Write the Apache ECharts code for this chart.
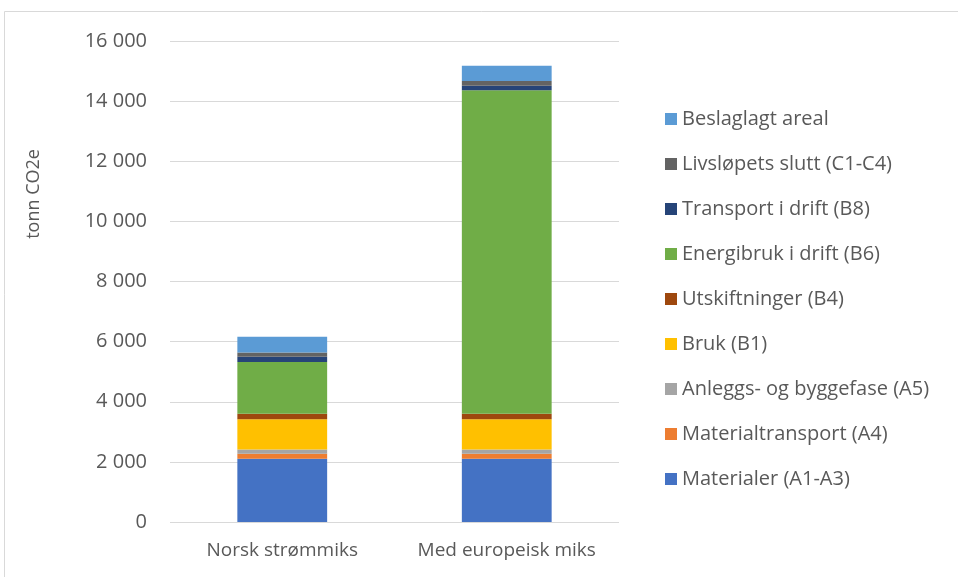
<!DOCTYPE html>
<html>
<head>
<meta charset="utf-8">
<script src="https://cdn.jsdelivr.net/npm/echarts@6/dist/echarts.min.js"></script>
<style>
  html, body { margin: 0; padding: 0; background: #fff; }
  #chart { width: 958px; height: 577px; }
</style>
</head>
<body>
<div id="chart"></div>
<script>
const categories = ["Norsk strømmiks", "Med europeisk miks"];
const yTicks = [0, 2000, 4000, 6000, 8000, 10000, 12000, 14000, 16000];

const materialer = [2105, 2105];
const materialtransport = [165, 165];
const anleggsfase = [145, 145];
const bruk = [1000, 1000];
const utskiftninger = [185, 185];
const energibruk = [1720, 10760];
const transportDrift = [175, 155];
const livslopSlutt = [145, 155];
const beslaglagtAreal = [520, 510];

const seriesDefs = [
  ["Materialer (A1-A3)", materialer, "#4472C4"],
  ["Materialtransport (A4)", materialtransport, "#ED7D31"],
  ["Anleggs- og byggefase (A5)", anleggsfase, "#A5A5A5"],
  ["Bruk (B1)", bruk, "#FFC000"],
  ["Utskiftninger (B4)", utskiftninger, "#9E480E"],
  ["Energibruk i drift (B6)", energibruk, "#70AD47"],
  ["Transport i drift (B8)", transportDrift, "#264478"],
  ["Livsløpets slutt (C1-C4)", livslopSlutt, "#636363"],
  ["Beslaglagt areal", beslaglagtAreal, "#5B9BD5"],
];

const font = "'Open Sans', sans-serif";
const textColor = "#595959";

const chart = echarts.init(document.getElementById("chart"));

const fmt = (v) => String(v).replace(/\B(?=(\d{3})+(?!\d))/g, " ");

chart.setOption({
  animation: false,
  backgroundColor: "#fff",
  textStyle: { fontFamily: font },
  graphic: [
    {
      type: "rect",
      shape: { x: 4.5, y: 11.5, width: 1000, height: 600 },
      style: { fill: "none", stroke: "#d9d9d9", lineWidth: 1 },
      silent: true,
    },
    {
      type: "text",
      x: 34,
      y: 194,
      rotation: Math.PI / 2,
      style: {
        text: "tonn CO2e",
        fill: textColor,
        font: "18px " + font,
        align: "center",
        verticalAlign: "middle",
      },
    },
  ],
  legend: {
    orient: "vertical",
    left: 660,
    top: 103,
    itemWidth: 12,
    itemHeight: 12,
    itemGap: 23,
    icon: "rect",
    data: seriesDefs.map((d) => d[0]).reverse(),
    textStyle: {
      color: textColor,
      fontSize: 20,
      lineHeight: 22,
      fontFamily: font,
    },
  },
  grid: { left: 170, right: 339, top: 41, bottom: 55 },
  xAxis: {
    type: "category",
    data: categories,
    axisLine: { show: false },
    axisTick: { show: false },
    axisLabel: {
      color: textColor,
      fontSize: 19,
      margin: 19,
      interval: 0,
      hideOverlap: false,
    },
  },
  yAxis: {
    type: "value",
    min: yTicks[0],
    max: yTicks[yTicks.length - 1],
    interval: 2000,
    axisLine: { show: false },
    axisTick: { show: false },
    splitLine: { lineStyle: { color: "#d9d9d9", width: 1 } },
    axisLabel: { color: textColor, fontSize: 20, margin: 23, formatter: fmt },
  },
  series: seriesDefs.map(([name, data, color]) => ({
    name,
    type: "bar",
    stack: "total",
    data,
    barCategoryGap: "60%",
    itemStyle: { color },
  })),
});
</script>
</body>
</html>
